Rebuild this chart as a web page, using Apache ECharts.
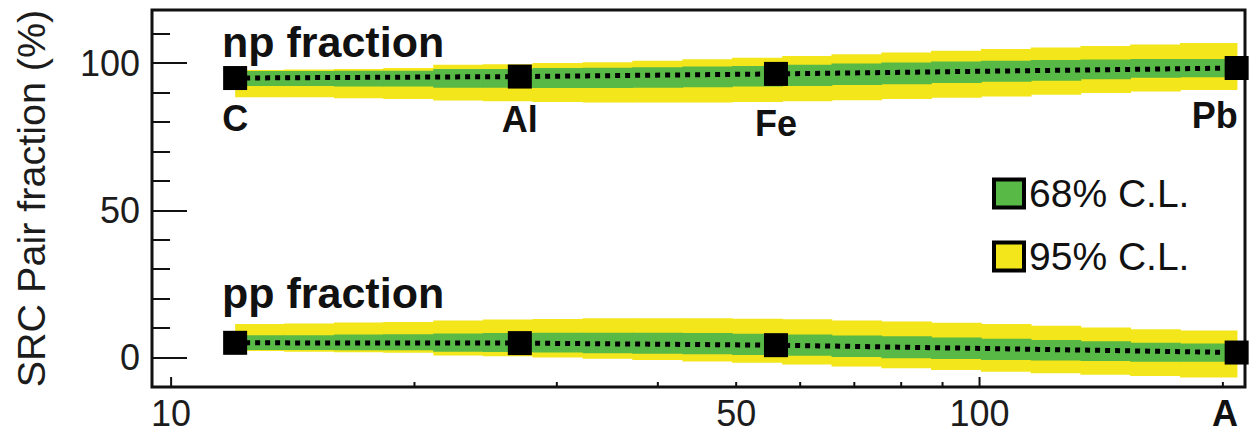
<!DOCTYPE html>
<html><head><meta charset="utf-8">
<script src="https://cdn.jsdelivr.net/npm/echarts@6/dist/echarts.min.js"></script>
<style>html,body{margin:0;padding:0;background:#fff}#c{width:1253px;height:432px}</style>
</head><body><div id="c"></div>
<script>
// ---- data ----
const nuclei = ['C', 'Al', 'Fe', 'Pb'];
const massNumbers = [12, 27, 56, 208];
const npFraction = [94.9, 95.4, 96.3, 98.3];
const ppFraction = [5.0, 4.9, 4.2, 1.7];

// step bins of the confidence bands (mass number edges)
const bandEdges = [12, 13.8, 15.9, 18.3, 21.1, 24.3, 28, 32.3, 37.2, 42.9, 49.4, 57, 65.6, 75.6, 87.1, 100.4, 115.7, 133.3, 153.6, 177, 208];
const np68Low  = [92.2, 92.2, 92.0, 92.0, 91.6, 91.6, 91.5, 91.5, 91.6, 91.8, 92.0, 92.2, 92.5, 92.8, 93.2, 93.6, 94.0, 94.5, 95.0, 95.2];
const np68High = [97.3, 97.3, 97.4, 97.4, 98.0, 98.0, 98.3, 98.4, 98.6, 98.8, 99.0, 99.4, 99.8, 100.2, 100.5, 100.8, 101.0, 101.2, 101.4, 101.4];
const np95Low  = [88.4, 88.4, 88.0, 87.8, 87.3, 87.0, 86.8, 86.6, 86.6, 86.6, 86.8, 87.0, 87.4, 87.8, 88.2, 88.6, 89.2, 89.8, 90.3, 90.8];
const np95High = [97.6, 97.8, 98.0, 98.3, 99.4, 99.6, 100.0, 100.3, 100.8, 101.3, 101.8, 102.4, 103.0, 103.6, 104.2, 104.8, 105.3, 105.8, 106.3, 106.8];
const pp68Low  = [2.6, 2.6, 2.5, 2.5, 2.0, 1.9, 1.7, 1.5, 1.3, 1.1, 0.9, 0.6, 0.2, -0.2, -0.5, -0.8, -1.0, -1.2, -1.4, -1.4];
const pp68High = [7.6, 7.6, 7.8, 7.9, 8.2, 8.3, 8.4, 8.4, 8.4, 8.3, 8.1, 7.8, 7.5, 7.2, 6.8, 6.4, 6.0, 5.5, 5.0, 4.8];
const pp95Low  = [2.2, 2.0, 1.8, 1.6, 0.7, 0.4, 0.0, -0.4, -0.8, -1.3, -1.8, -2.4, -3.0, -3.6, -4.2, -4.8, -5.3, -5.8, -6.3, -6.8];
const pp95High = [11.4, 11.6, 11.9, 12.1, 12.6, 12.9, 13.1, 13.3, 13.3, 13.3, 13.2, 13.0, 12.6, 12.2, 11.8, 11.4, 10.8, 10.2, 9.6, 9.2];

const xTickValues = [10, 20, 30, 40, 50, 60, 70, 80, 90, 100, 200];
const xMajorTicks = [10, 100];
const xTickLabels = [10, 50, 100];
const yTickLabels = [0, 50, 100];

// ---- styles ----
const FONT = 'Liberation Sans, Arial, Helvetica, sans-serif';
const GREEN = '#59b947';
const YELLOW = '#f3e61a';
const TEXT = '#111';
const X_MIN = 9.47, X_MAX = 213, Y_MIN = -10, Y_MAX = 118;
const labelOffsets = [[0, 40], [0, 43], [0, 50], [-22, 47]];

function bandRows(lo1, hi1, lo2, hi2) {
  const rows = [];
  for (let i = 0; i < bandEdges.length - 1; i++) {
    rows.push([bandEdges[i], bandEdges[i + 1], lo1[i], hi1[i]]);
  }
  for (let i = 0; i < bandEdges.length - 1; i++) {
    rows.push([bandEdges[i], bandEdges[i + 1], lo2[i], hi2[i]]);
  }
  return rows;
}
function bandRender(color) {
  return function (params, api) {
    const a = api.coord([api.value(0), api.value(3)]);
    const b = api.coord([api.value(1), api.value(2)]);
    return {
      type: 'rect',
      shape: { x: a[0], y: a[1], width: b[0] - a[0] + 0.8, height: b[1] - a[1] },
      style: { fill: color }
    };
  };
}

const chart = echarts.init(document.getElementById('c'), null, { renderer: 'svg' });
chart.setOption({
  animation: false,
  backgroundColor: '#fff',
  grid: { left: 152, right: 8, top: 10, bottom: 45, show: true, borderColor: '#111', borderWidth: 3, backgroundColor: 'transparent' },
  legend: {
    orient: 'vertical', left: 992, top: 174, padding: 0,
    itemWidth: 30, itemHeight: 28, itemGap: 24,
    textStyle: { fontSize: 39, fontFamily: FONT, color: TEXT, lineHeight: 38 },
    data: [
      { name: '68% C.L.', icon: 'rect', itemStyle: { color: GREEN, borderColor: '#000', borderWidth: 4 } },
      { name: '95% C.L.', icon: 'rect', itemStyle: { color: YELLOW, borderColor: '#000', borderWidth: 4 } }
    ],
    selectedMode: false
  },
  xAxis: {
    type: 'log', logBase: 10, min: X_MIN, max: X_MAX,
    axisLine: { show: false }, axisTick: { show: false }, axisLabel: { show: false }, splitLine: { show: false }
  },
  yAxis: [
    {
      type: 'value', min: Y_MIN, max: Y_MAX, interval: 10,
      axisLine: { show: false }, splitLine: { show: false }, axisLabel: { show: false },
      axisTick: { show: true, inside: true, length: 18, lineStyle: { color: '#111', width: 2 } },
      name: 'SRC Pair fraction (%)', nameLocation: 'middle', nameGap: 101,
      nameTextStyle: { fontSize: 39.5, fontFamily: FONT, color: '#1c1c1c' }
    },
    {
      type: 'value', min: Y_MIN, max: Y_MAX, position: 'left',
      axisLine: { show: false }, splitLine: { show: false },
      axisTick: { show: true, inside: true, length: 35, customValues: yTickLabels, lineStyle: { color: '#111', width: 2 } },
      axisLabel: { show: true, customValues: yTickLabels, fontSize: 36, fontFamily: FONT, color: '#1c1c1c', margin: 12 }
    }
  ],
  graphic: [
    { type: 'text', left: 222, top: 20, style: { text: 'np fraction', fontSize: 43, fontWeight: 'bold', fontFamily: FONT, fill: TEXT } },
    { type: 'text', left: 222, top: 271, style: { text: 'pp fraction', fontSize: 43, fontWeight: 'bold', fontFamily: FONT, fill: TEXT } },
    { type: 'text', left: 1212, top: 395, style: { text: 'A', fontSize: 36, fontWeight: 'bold', fontFamily: FONT, fill: TEXT } }
  ],
  series: [
    {
      name: '95% C.L.', type: 'custom', z: 1,
      encode: { x: [0, 1], y: [2, 3] },
      renderItem: bandRender(YELLOW), itemStyle: { color: YELLOW },
      data: bandRows(np95Low, np95High, pp95Low, pp95High)
    },
    {
      name: '68% C.L.', type: 'custom', z: 2,
      encode: { x: [0, 1], y: [2, 3] },
      renderItem: bandRender(GREEN), itemStyle: { color: GREEN },
      data: bandRows(np68Low, np68High, pp68Low, pp68High)
    },
    {
      name: 'np central', type: 'line', z: 3, symbol: 'none',
      lineStyle: { color: '#000', width: 5, type: [5, 5], opacity: 1 },
      data: massNumbers.map((a, i) => [a, npFraction[i]])
    },
    {
      name: 'pp central', type: 'line', z: 3, symbol: 'none',
      lineStyle: { color: '#000', width: 5, type: [5, 5], opacity: 1 },
      data: massNumbers.map((a, i) => [a, ppFraction[i]])
    },
    {
      name: 'np', type: 'scatter', z: 4, symbol: 'rect', symbolSize: 24,
      itemStyle: { color: '#000', opacity: 1 },
      data: massNumbers.map((a, i) => ({
        value: [a, npFraction[i]],
        label: { show: true, formatter: nuclei[i], position: 'inside', offset: labelOffsets[i],
                 fontSize: 36, fontWeight: 'bold', fontFamily: FONT, color: TEXT }
      }))
    },
    {
      name: 'pp', type: 'scatter', z: 4, symbol: 'rect', symbolSize: 24,
      itemStyle: { color: '#000', opacity: 1 },
      data: massNumbers.map((a, i) => [a, ppFraction[i]])
    },
    {
      name: 'x ticks', type: 'custom', z: 5, silent: true,
      data: xTickValues.map(v => [v, xMajorTicks.includes(v) ? 1 : 0, xTickLabels.includes(v) ? 1 : 0]),
      encode: { x: 0, y: 1 },
      renderItem: function (params, api) {
        const v = api.value(0);
        const p = api.coord([v, Y_MIN]);
        const len = api.value(1) ? 10 : 5;
        const children = [{ type: 'line', shape: { x1: p[0], y1: p[1], x2: p[0], y2: p[1] - len }, style: { stroke: '#111', lineWidth: 2 } }];
        if (api.value(2)) {
          children.push({ type: 'text', x: p[0], y: p[1] + 8,
            style: { text: String(v), fontSize: 36, fontFamily: FONT, fill: '#1c1c1c', align: 'center', verticalAlign: 'top' } });
        }
        return { type: 'group', children: children };
      }
    }
  ]
});
</script>
</body></html>
